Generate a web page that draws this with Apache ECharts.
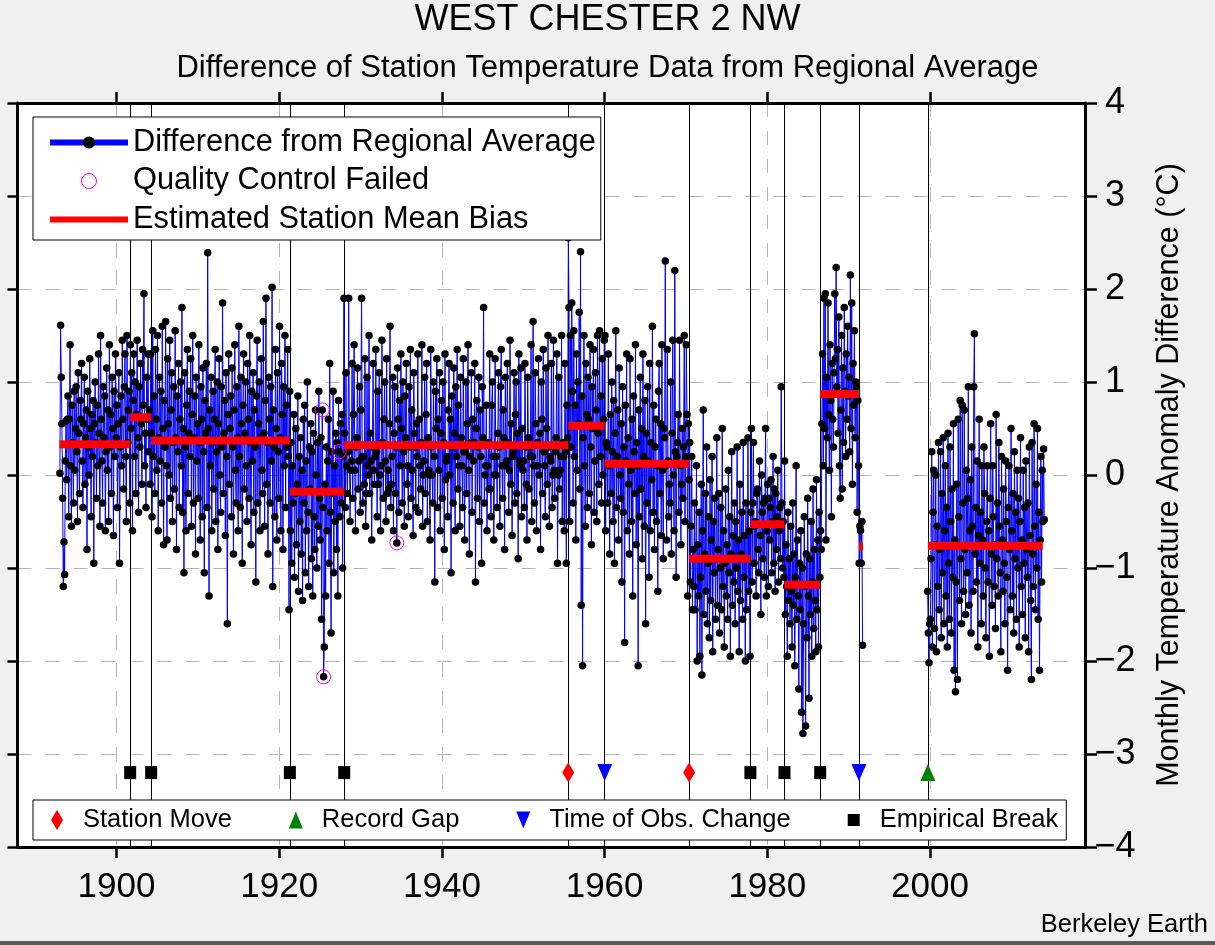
<!DOCTYPE html>
<html>
<head>
<meta charset="utf-8">
<script src="https://cdn.jsdelivr.net/npm/echarts@6.0.0/dist/echarts.min.js"></script>
<style>
html,body{margin:0;padding:0;background:#f0f0f0;}
#chart{width:1215px;height:945px;}
</style>
</head>
<body>
<div id="chart"></div>
<script>
// ---------- texts ----------
const titleText = 'WEST CHESTER 2 NW';
const subtitleText = 'Difference of Station Temperature Data from Regional Average';
const yAxisName = 'Monthly Temperature Anomaly Difference (\u00B0C)';
const creditText = 'Berkeley Earth';

// ---------- axes ----------
const xTickValues = [1900, 1920, 1940, 1960, 1980, 2000];
const xMin = 1887.83, xMax = 2019.05;
const yMin = -4, yMax = 4, yStep = 1;

// ---------- monthly differences, first block starts January 1893 ----------
const block1Start = [1893, 1];
const diff1890s = [
  0.02, 1.61, 1.05, 0.55, -0.25, -1.2, -0.72, -1.07, 0.15, 0.58, -0.05, 0.6,
  0.85, -0.45, 0.6, 1.4, 0.1, -0.55, 0.75, 0.35, -0.3, 0.9, 0.05, 0.5,
  0.95, 0.25, -0.5, 1.1, 0.45, -0.2, 0.8, 0.6, 1.2, 0.15, -0.35, 0.55,
  1.05, -0.1, 0.4, 0.7, -0.8, 0.9, 0.3, 0.0, 1.25, 0.5, -0.45, 0.65,
  0.2, 0.8, -0.95, 0.55, 1.0, 0.35, -0.25, 0.75, 0.1, 1.3, 0.45, -0.55,
  1.5, 0.6, 0.15, -0.3, 0.95, 0.4, 0.85, -0.6, 0.25, 1.15, 0.05, 0.7,
  -0.5, 1.4, 0.3, 0.65, -0.2, 1.05, 0.5, -0.65, 0.9, 0.2, 1.3, 0.4
];
const diff1900s = [
  0.75, -0.35, 0.55, 1.1, -0.95, 0.3, 0.85, 0.1, 1.45, 0.6, -0.15, 0.95,
  1.3, 0.2, -0.5, 1.5, 0.35, 0.7, 0.9, -0.3, 1.4, 0.5, 1.1, -0.6,
  0.8, 1.3, 0.2, 1.0, -0.2, 0.65, 1.45, 0.4, -0.4, 0.95, 0.3, 1.2,
  0.55, -0.1, 1.35, 0.75, 1.95, 0.1, 0.45, -0.35, 1.05, 0.6, 1.3, 0.25,
  0.7, -0.1, 1.3, 0.45, -0.45, 1.55, 0.2, 0.85, -0.2, 1.35, 0.6, 0.05,
  1.5, -0.6, 0.4, 1.05, 0.15, 0.9, -0.3, 1.6, 0.5, -0.75, 0.8, 0.3,
  1.65, 0.1, -0.7, 1.25, 0.55, 0.0, 1.45, -0.25, 0.7, 1.1, -0.5, 0.35,
  0.95, -0.15, 1.55, 0.4, -0.8, 0.85, 0.25, 1.2, -0.35, 0.6, 1.0, 0.1,
  1.8, -0.4, 0.5, -1.05, 1.1, 0.3, -0.6, 0.75, 1.35, -0.2, 0.45, 0.9,
  0.2, 1.25, -0.55, 0.65, 1.5, -0.3, 0.4, 0.85, -0.85, 1.05, 0.15, 0.55
];
const diff1910s = [
  -0.25, 1.4, 0.35, -0.7, 0.95, 0.6, -0.45, 1.15, 0.25, -1.05, 0.8, 0.45,
  1.2, -0.35, 2.39, 0.5, -1.3, 0.7, 0.1, 1.05, -0.6, 0.35, 0.9, -0.15,
  0.6, 1.35, -0.5, 0.25, 1.0, -0.8, 0.55, 1.25, 0.0, -0.4, 0.95, 0.3,
  1.85, -0.2, 0.45, 0.8, -0.65, 1.1, 0.2, -1.6, 0.65, 1.3, -0.1, 0.5,
  0.85, -0.45, 1.15, 0.3, -0.85, 0.7, 1.4, 0.05, -0.3, 0.95, 0.4, -0.6,
  1.6, 0.2, -0.35, 1.05, 0.55, -0.95, 0.75, 1.3, -0.15, 0.45, 1.0, 0.1,
  -0.5, 1.2, 0.6, -0.25, 1.5, 0.35, -0.75, 0.9, 0.15, 1.1, -0.4, 0.7,
  0.3, -1.15, 0.85, 1.45, -0.3, 0.55, 1.0, -0.6, 0.4, 1.25, 0.05, -0.2,
  1.65, 0.45, -0.55, 0.8, 1.9, -0.1, 0.35, -0.85, 1.05, 0.6, -0.3, 0.95,
  0.15, 2.02, -1.2, 0.7, 0.3, -0.45, 1.35, 0.5, -0.7, 1.1, 0.25, -0.25
];
const diff1920s = [
  1.6, 0.4, -0.6, 1.2, 0.65, -0.8, 0.95, 0.1, 1.5, -0.35, 0.75, 0.3,
  1.35, 0.2, -1.45, 0.9, -0.6, 0.35, -0.95, 0.1, -0.3, 0.65, -1.1, -0.2,
  0.5, -0.75, -0.1, 0.85, -1.25, 0.2, -0.5, 0.4, -0.85, 0.05, -1.35, 0.6,
  -0.3, 0.75, -1.05, 0.15, -0.6, 1.0, -0.4, -1.2, 0.3, -0.15, 0.55, -0.9,
  0.25, -1.3, 0.45, -0.45, -0.8, 0.7, 0.0, -1.0, 0.35, -0.55, 0.9, -0.25,
  -0.7, 0.4, -1.55, 0.70, -0.35, -2.17, -1.85, -0.1, -1.3, 0.3, -0.6, 0.15,
  0.6, -0.95, 1.2, -0.4, -1.7, 0.25, -0.2, 0.9, -1.05, 0.1, -0.5, 0.45,
  -0.8, 0.35, -1.3, 0.8, 0.25, -0.45, 0.55, -0.3, 0.65, -1.0, 0.2, 1.9,
  0.45, -0.35, 1.1, 0.1, -0.2, 0.25, 1.9, 0.3, -0.5, 0.05, 0.15, 1.2,
  -0.25, 0.65, 1.4, 0.05, -0.6, 0.3, 0.4, 1.15, -0.15, 0.15, 0.95, -0.4
];
const diff1930s = [
  0.7, 1.9, 0.2, -0.3, 0.2, -0.1, 1.25, -0.55, -0.2, 1.05, 0.1, 0.0,
  1.5, -0.2, 0.45, 0.15, -0.7, 0.3, 1.2, 0.05, -0.1, 0.2, 1.35, 0.25,
  -0.45, 0.9, -0.1, 1.1, 0.0, -0.6, 0.1, 1.45, 0.35, -0.25, 0.6, 1.0,
  0.15, -0.5, 1.25, -0.2, 0.05, -0.15, 0.55, 1.6, -0.35, -0.1, 0.2, 1.05,
  -0.6, 0.45, 0.95, -0.2, 0.3, -0.73, 1.15, 0.6, -0.4, 0.8, 0.1, 1.3,
  0.5, -0.3, 1.0, 0.25, -0.55, 0.85, 0.4, 1.2, -0.1, 0.1, -0.45, 0.95,
  0.3, 1.35, -0.25, 0.7, 0.05, -0.65, 1.1, 0.45, 0.3, -0.35, 0.55, 0.2,
  1.3, -0.4, 0.6, 0.1, -0.15, 0.35, 1.4, -0.55, 0.0, 0.15, 1.05, -0.2,
  0.65, 1.2, -0.5, 0.4, 0.05, 0.0, -0.7, 1.35, 0.3, 0.0, -0.3, 1.0,
  0.2, -1.15, 0.9, 0.5, 1.25, -0.35, 0.6, 0.05, 1.1, -0.6, 0.45, 0.8
];
const diff1940s = [
  -0.25, 1.0, 0.35, -0.8, 1.3, -0.05, 0.15, 0.2, -0.45, 0.7, 1.2, 0.0,
  0.6, -1.05, 0.85, 0.3, -0.3, 1.15, 0.45, -0.6, 0.95, 0.2, 1.35, -0.15,
  0.75, 0.1, -0.55, 1.05, 0.4, 0.1, -0.35, 1.25, 0.25, -0.7, 0.25, 1.0,
  -0.2, 0.55, 1.4, 0.05, -0.85, 0.2, 0.35, 1.1, -0.4, 0.6, 0.15, 0.35,
  1.2, -1.15, 0.5, 0.8, -0.25, 0.3, 1.05, -0.5, 0.7, 0.2, -0.95, 0.95,
  0.4, 1.8, -0.3, 0.0, 0.1, 0.75, -0.6, 0.1, 0.35, -0.15, 1.3, -0.15,
  -0.45, 0.75, 1.0, 0.2, -0.7, 0.0, 1.25, 0.0, 0.2, -0.35, 0.45, 1.1,
  0.3, -0.55, 0.95, 1.35, 0.1, -0.25, 0.7, 0.4, -0.8, 1.05, 0.1, 0.15,
  1.2, 0.35, -0.4, 0.05, 1.45, -0.1, 0.55, -0.65, 0.2, 0.25, 1.1, -0.3,
  0.65, 1.0, -0.2, 0.45, -0.9, 1.3, 0.15, 0.1, 1.15, -0.45, 0.5, 0.05
];
const diff1950s = [
  0.15, -0.35, 1.2, 0.3, -0.1, -0.7, 1.05, 0.4, -0.15, 0.3, 0.2, 1.4,
  -0.5, 0.2, 1.65, 0.1, -0.3, 1.1, 0.55, -0.6, 0.1, 0.35, 1.25, 0.0,
  0.45, -0.8, 1.0, 0.6, -0.2, 1.35, 0.25, 0.1, -0.45, 1.15, 0.5, -0.1,
  1.5, 0.3, -0.55, 0.2, 0.15, 1.2, -0.35, 0.0, 1.45, 0.05, -0.25, 0.25,
  0.4, 1.3, -0.95, 0.0, 1.05, -0.15, 0.05, 0.2, 1.5, -0.5, 0.35, 0.2,
  -0.6, 1.2, 0.25, -0.95, 0.75, 0.4, 2.55, 1.8, -0.5, 1.5, 0.3, 1.85,
  0.9, -0.3, 1.55, 0.2, 0.75, -0.7, 1.3, 0.05, 1.0, 0.55, 1.75, -0.15,
  2.4, -1.4, 0.85, -2.05, 0.4, 1.5, 0.1, -0.55, 1.2, 0.65, -0.35, 1.05,
  0.6, -0.2, 1.4, 0.3, -0.75, 0.95, 0.5, 1.35, -0.4, 0.15, 1.1, 0.7,
  -0.5, 1.5, 0.45, -0.1, 1.55, 0.2, 0.85, -0.3, 1.25, 0.0, 0.6, 1.45
];
const diff1960s = [
  1.5, -0.6, 0.35, 0.3, -0.3, 1.3, 0.1, -0.85, 0.65, -0.2, 1.0, 0.25,
  -0.5, 0.8, -0.95, 0.45, 1.55, -0.35, 0.2, 0.7, -0.7, 1.15, 0.0, -0.25,
  0.55, -1.15, 0.95, -0.4, 0.3, -1.8, 0.75, 0.15, 1.3, -0.6, 0.4, -0.1,
  -0.85, 1.25, 0.05, -0.5, 0.6, -1.3, 0.85, 0.25, -0.2, 1.4, -0.75, 0.35,
  0.1, -2.05, 0.7, -0.45, 1.05, -0.15, 0.5, -0.9, 1.3, 0.2, -0.55, 0.8,
  -1.6, 0.45, -0.3, 0.95, 0.15, -1.1, 1.2, -0.6, 0.35, -0.05, 1.6, -0.4,
  0.75, -0.8, 0.3, 0.6, -0.5, 0.1, -1.25, 0.9, 1.2, -0.2, 0.55, -0.65,
  1.4, 0.05, -0.9, 0.5, 0.4, 2.3, 0.1, -0.7, 1.35, 0.15, -0.45, -0.1,
  -0.3, 1.0, -0.85, 0.45, 1.45, 0.0, -0.6, 2.2, 0.25, -1.1, 0.2, 0.35,
  0.65, -0.4, 1.45, 0.1, -0.75, -0.1, 0.5, -0.25, 0.3, 1.5, -0.5, 0.2
];
const diff1970s = [
  1.4, 0.65, -1.3, 0.55, -0.05, 0.35, -1.15, -0.55, 0.2, -1.45, -0.8, -1.2,
  -0.3, -1.45, -0.9, 0.1, -2.0, -0.75, -1.3, -0.4, -1.95, -1.1, -0.1, -2.15,
  -0.6, 0.7, -1.5, -0.85, -0.2, -1.25, 0.3, -1.6, -0.95, -0.45, -1.75, -0.05,
  -1.35, -0.7, 0.2, -1.9, -0.5, -1.05, -0.25, -1.55, -0.9, 0.4, -1.4, -0.8,
  -0.2, -1.7, -1.0, -0.35, -1.45, 0.5, -1.2, -0.6, -1.85, -0.95, -0.15, -1.3,
  -0.75, -1.55, 0.05, -1.05, -0.45, -1.95, -0.85, 0.25, -1.4, -0.65, -1.15, -0.3,
  -1.6, -0.5, -1.0, 0.3, -1.25, -0.7, -1.9, -0.1, -1.35, -0.85, -0.4, -1.55,
  0.35, -1.1, -0.65, -2.0, -0.3, -1.45, -0.9, 0.4, -1.25, -0.6, -1.95, -0.4,
  0.5, -1.15, -0.3, 0.35, -0.95, -0.55, -0.5, -1.3, -0.2, -0.15, -0.8, -1.05,
  0.15, -0.65, -1.5, 0.0, -0.4, -0.9, -0.3, -1.1, -0.25, 0.5, -1.3, -0.6
];
const diff1980s = [
  -0.1, -1.2, -0.25, -0.7, -0.35, -0.05, -1.05, -0.5, 0.2, -0.95, -0.15, -1.25,
  -0.2, -0.8, -0.45, 0.05, -1.15, -0.6, -0.35, -0.9, 0.95, -0.3, -1.0, -0.5,
  -1.1, 0.15, -1.5, -0.75, -1.2, -1.95, -0.4, -1.35, -0.9, -1.6, -0.55, -1.25,
  -1.85, -0.3, -1.4, -0.85, -2.05, -1.1, 0.1, -1.55, -0.7, -1.3, -2.3, -0.95,
  -1.45, -0.6, -2.55, -1.0, -2.78, -1.6, -0.45, -1.2, -2.7, -0.85, -1.75, -0.25,
  -1.3, -2.4, -0.9, -1.5, -0.5, -1.95, -1.15, -0.15, -1.65, -0.8, -1.35, -1.9,
  -0.05, -1.45, -0.7, -1.85, -0.4, -1.1, -0.6, -0.8, 0.55, 1.3, 0.1, 1.9,
  0.5, 1.95, -0.7, 1.05, 0.4, 1.85, 0.65, 0.05, 1.4, 0.8, -0.45, 1.2,
  0.6, 0.3, 1.1, 1.95, 1.25, 2.23, 0.95, 1.35, 0.45, 1.7, 0.1, -0.25,
  0.7, 1.5, -0.15, 1.15, 0.35, 1.8, 0.9, 0.2, 1.3, 0.6, 1.6, 0.85
];
const diff1990to1991 = [
  1.05, 0.25, 2.15, 0.5, 1.85, -0.1, 1.2, 0.75, 1.55, 0.4, 1.0, 0.95,
  -0.4, 0.8, 0.1, -0.95, -0.55, -0.6, -0.95, -0.5, -1.83
];

// ---------- second block starts September 1999 ----------
const block2Start = [1999, 9];
const diff1999to2006 = [
  -1.25, -1.7, -2.02, -1.6,
  -1.55, -0.9, 0.25, -1.85, -0.4, 0.05, -1.65, -0.75, 0.0, -1.9, -0.55, -1.2,
  0.35, -1.45, -0.8, 0.25, -1.75, -0.2, -1.05, 0.4, -1.6, -0.6, 0.1, -1.3,
  -0.35, -1.85, 0.45, -0.95, -1.55, 0.3, -0.5, -1.7, -0.15, -1.1, 0.55, -2.1,
  -0.7, -2.33, -1.15, -0.1, -2.2, 0.6, -0.45, -1.35, 0.8, -0.9, -1.6, 0.75,
  -0.3, -1.25, 0.7, -0.8, -1.5, 0.05, -1.05, -0.25, 0.95, -1.4, -0.6, -0.05,
  -1.7, 0.3, -0.55, -1.25, 0.95, 1.52, -0.85, -0.35, -1.15, 0.15, -1.85, -0.65,
  0.6, -0.95, -0.4, -1.6, 0.1, -0.7, -1.3, 0.3, -0.2, -1.0, -1.75, -0.5
];
const diff2007to2014 = [
  0.1, -1.15, -0.6, -1.95, -0.25, 0.55, -0.85, -1.4, 0.1, -0.45, -1.2, -0.75,
  -1.65, 0.65, -0.9, -0.3, -1.3, 0.35, -0.55, -1.05, -1.9, 0.2, -0.7, -1.25,
  -0.15, -0.95, -1.6, 0.15, -0.5, -1.1, -2.1, -0.35, 0.1, -0.8, -1.45, 0.5,
  -0.6, -1.3, -0.2, -1.7, 0.25, -0.9, -0.4, -1.55, 0.05, -1.0, -0.25, -1.85,
  -0.5, 0.4, -1.2, -0.7, -1.5, 0.05, -0.95, -0.35, -1.75, 0.15, -0.8, -1.1,
  -0.3, -1.9, 0.3, -0.65, -1.35, -2.2, 0.35, -0.85, -1.2, 0.55, -0.55, -1.45,
  -0.1, -1.0, 0.5, -1.55, -0.4, -2.1, -0.7, 0.2, -1.15, 0.05, -0.5, 0.28,
  -0.48
];

// ---------- months that failed quality control [year, month] ----------
const qcFlagged = [[1925, 4], [1925, 6], [1927, 5], [1934, 6]];

// ---------- estimated station mean bias ----------
const biasStart = [1893.0, 1901.68, 1904.26, 1921.31, 1927.99, 1955.53, 1960.01, 1970.39, 1977.92, 1982.11, 1986.50, 1991.26, 1999.74];
const biasEnd   = [1901.68, 1904.26, 1921.31, 1927.99, 1955.53, 1960.01, 1970.39, 1977.92, 1982.11, 1986.50, 1991.26, 1991.75, 2013.85];
const biasValue = [0.33, 0.62, 0.37, -0.18, 0.32, 0.53, 0.12, -0.90, -0.53, -1.18, 0.87, -0.77, -0.76];

// ---------- station events ----------
const stationMoveYears = [1955.53, 1970.39];
const recordGapYears = [1999.74];
const tobsChangeYears = [1960.01, 1991.26];
const empiricalBreakYears = [1901.68, 1904.26, 1921.31, 1927.99, 1977.92, 1982.11, 1986.50];
const eventMarkerLevel = -3.2;

// ---------- build ----------
function buildBlock(start, values) {
  return values.map((v, i) => {
    const idx = start[1] - 1 + i;
    const y = start[0] + Math.floor(idx / 12);
    const m = idx % 12 + 1;
    return { y: y, m: m, t: y + (m - 0.5) / 12, v: v };
  });
}
const block1 = buildBlock(block1Start, [].concat(diff1890s, diff1900s, diff1910s, diff1920s, diff1930s, diff1940s, diff1950s, diff1960s, diff1970s, diff1980s, diff1990to1991));
const block2 = buildBlock(block2Start, [].concat(diff1999to2006, diff2007to2014));
const gapTime = (block1[block1.length - 1].t + block2[0].t) / 2;
const diffData = block1.map(p => [p.t, p.v]).concat([[gapTime, '-']], block2.map(p => [p.t, p.v]));
const allPts = block1.concat(block2);
const qcData = qcFlagged.map(f => {
  const p = allPts.find(q => q.y === f[0] && q.m === f[1]);
  return [p.t, p.v];
});
const biasData = [];
biasValue.forEach((v, i) => {
  biasData.push([biasStart[i], v], [biasEnd[i], v], [biasEnd[i], '-']);
});
const allEventYears = [].concat(empiricalBreakYears, stationMoveYears, tobsChangeYears, recordGapYears);

const FONT = 'Liberation Sans, Arial, Helvetica, sans-serif';
const minusFmt = v => (v < 0 ? '\u2212' + Math.abs(v) : String(v));

const chart = echarts.init(document.getElementById('chart'), null, { renderer: 'canvas' });
chart.setOption({
  backgroundColor: '#f0f0f0',
  animation: false,
  textStyle: { fontFamily: FONT, color: '#000' },
  title: [
    { text: titleText, left: 'center', top: 2, padding: 0,
      textStyle: { fontSize: 36, fontWeight: 'normal', color: '#000', fontFamily: FONT, lineHeight: 36 } },
    { text: subtitleText, left: 'center', top: 53, padding: 0,
      textStyle: { fontSize: 31, fontWeight: 'normal', color: '#000', fontFamily: FONT, lineHeight: 31 } }
  ],
  grid: { left: 17.5, right: 130, top: 103, bottom: 98, show: true, backgroundColor: '#ffffff', borderWidth: 0 },
  xAxis: [
    { type: 'value', position: 'bottom', min: xMin, max: xMax,
      axisLine: { show: true, onZero: false, lineStyle: { color: '#000', width: 3 } },
      axisTick: { show: true, inside: false, length: 11, customValues: xTickValues, lineStyle: { color: '#000', width: 2.5 } },
      axisLabel: { show: true, customValues: xTickValues, margin: 23, fontSize: 35, color: '#000', fontFamily: FONT, lineHeight: 35, formatter: v => String(Math.round(v)) },
      splitLine: { show: true, lineStyle: { color: '#b4b4b4', width: 1, type: [14, 14] } } },
    { type: 'value', position: 'top', min: xMin, max: xMax,
      axisLine: { show: true, onZero: false, lineStyle: { color: '#000', width: 3 } },
      axisTick: { show: true, inside: false, length: 11, customValues: xTickValues, lineStyle: { color: '#000', width: 2.5 } },
      axisLabel: { show: false },
      splitLine: { show: false } }
  ],
  yAxis: [
    { type: 'value', position: 'right', min: yMin, max: yMax, interval: yStep,
      name: yAxisName, nameLocation: 'middle', nameRotate: 90, nameGap: 70,
      nameTextStyle: { fontSize: 30.5, color: '#000', fontFamily: FONT, lineHeight: 30 },
      axisLine: { show: true, onZero: false, lineStyle: { color: '#000', width: 3 } },
      axisTick: { show: true, inside: false, length: 12, lineStyle: { color: '#000', width: 2.5 } },
      axisLabel: { show: true, margin: 30, align: 'center', fontSize: 36, color: '#000', fontFamily: FONT, formatter: minusFmt },
      splitLine: { show: true, lineStyle: { color: '#b4b4b4', width: 1, type: [14, 14] } } },
    { type: 'value', position: 'left', min: yMin, max: yMax, interval: yStep,
      axisLine: { show: true, onZero: false, lineStyle: { color: '#000', width: 3 } },
      axisTick: { show: true, inside: false, length: 10, lineStyle: { color: '#000', width: 2.5 } },
      axisLabel: { show: false },
      splitLine: { show: false } }
  ],
  legend: [
    { orient: 'vertical', left: 33, top: 117, selectedMode: false,
      backgroundColor: '#ffffff', borderColor: '#000', borderWidth: 1,
      padding: [10, 5, 5, 14], itemWidth: 78, itemHeight: 15, itemGap: 7.5,
      symbolKeepAspect: true,
      textStyle: { fontSize: 30.8, color: '#000', fontFamily: FONT, lineHeight: 30 },
      data: [
        { name: 'Difference from Regional Average', lineStyle: { width: 6, color: '#0000ff' }, itemStyle: { color: '#000' } },
        { name: 'Quality Control Failed', icon: 'circle', itemStyle: { color: 'rgba(0,0,0,0)', borderColor: '#ff00ff', borderWidth: 1, opacity: 1 } },
        { name: 'Estimated Station Mean Bias', icon: 'path://M0,0H78V6H0Z', itemStyle: { color: '#ff0000', opacity: 1 } }
      ] },
    { orient: 'horizontal', left: 33, top: 800, selectedMode: false,
      backgroundColor: '#ffffff', borderColor: '#000', borderWidth: 1,
      padding: [7, 8, 7, 18], itemWidth: 42, itemHeight: 20, itemGap: 57,
      symbolKeepAspect: true,
      textStyle: { fontSize: 25.5, color: '#000', fontFamily: FONT, lineHeight: 26 },
      data: [
        { name: 'Station Move', icon: 'path://M6,0L12,10L6,20L0,10Z', itemStyle: { opacity: 1 } },
        { name: 'Record Gap', icon: 'path://M0,-1.5M0,18.5M7,0L14,17L0,17Z', itemStyle: { opacity: 1 } },
        { name: 'Time of Obs. Change', icon: 'path://M0,-1.5M0,18.5M0,0L14,0L7,17Z', itemStyle: { opacity: 1 } },
        { name: 'Empirical Break', icon: 'path://M0,-4M0,16M0,0H12V12H0Z', itemStyle: { opacity: 1 } }
      ] }
  ],
  graphic: [
    { type: 'text', right: 7, top: 912, style: { text: creditText, fontSize: 25.5, fill: '#000', font: '25.5px ' + FONT } },
    { type: 'rect', left: 0, top: 941, shape: { width: 1215, height: 4 }, style: { fill: '#5a5a5a' } }
  ],
  series: [
    { name: 'eventLines', type: 'line', data: [], silent: true,
      markLine: { silent: true, z: 1, symbol: ['none', 'none'], label: { show: false },
        lineStyle: { color: '#000', width: 1, type: 'solid' },
        emphasis: { disabled: true },
        data: allEventYears.map(x => ({ xAxis: x })) } },
    { name: 'Difference from Regional Average', type: 'line', data: diffData, z: 2,
      symbol: 'circle', symbolSize: 7.5, showSymbol: true, showAllSymbol: true,
      connectNulls: false, silent: true,
      lineStyle: { color: '#0000ff', width: 1 },
      itemStyle: { color: '#000' },
      emphasis: { disabled: true } },
    { name: 'Quality Control Failed', type: 'scatter', data: qcData, z: 3, silent: true,
      symbol: 'circle', symbolSize: 14,
      itemStyle: { color: 'rgba(0,0,0,0)', borderColor: '#ff00ff', borderWidth: 1, opacity: 1 } },
    { name: 'Estimated Station Mean Bias', type: 'line', data: biasData, z: 4, silent: true,
      symbol: 'none', connectNulls: false, color: '#ff0000',
      lineStyle: { color: '#ff0000', width: 8, cap: 'butt' },
      itemStyle: { color: '#ff0000' } },
    { name: 'Station Move', type: 'scatter', data: stationMoveYears.map(x => [x, eventMarkerLevel]), z: 5, silent: true,
      symbol: 'diamond', symbolSize: [12, 20], itemStyle: { color: '#ff0000', opacity: 1 } },
    { name: 'Record Gap', type: 'scatter', data: recordGapYears.map(x => [x, eventMarkerLevel]), z: 5, silent: true,
      symbol: 'triangle', symbolSize: [15, 17], itemStyle: { color: '#008000', opacity: 1 } },
    { name: 'Time of Obs. Change', type: 'scatter', data: tobsChangeYears.map(x => [x, eventMarkerLevel]), z: 5, silent: true,
      symbol: 'triangle', symbolRotate: 180, symbolSize: [15, 17], itemStyle: { color: '#0000ff', opacity: 1 } },
    { name: 'Empirical Break', type: 'scatter', data: empiricalBreakYears.map(x => [x, eventMarkerLevel]), z: 5, silent: true,
      symbol: 'rect', symbolSize: [12, 13], itemStyle: { color: '#000', opacity: 1 } }
  ]
});
</script>
</body>
</html>
